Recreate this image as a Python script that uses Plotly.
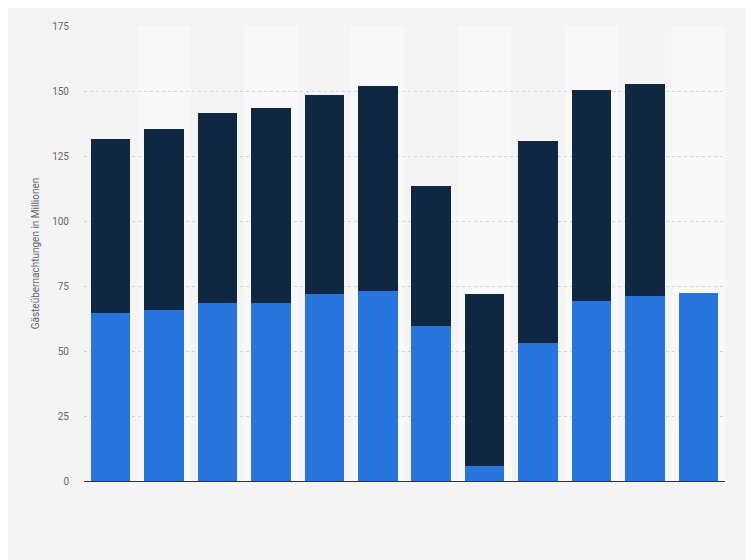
import plotly.graph_objects as go

categories = ["2010", "2011", "2012", "2013", "2014", "2015", "2016", "2017", "2018", "2019", "2020", "2021"]
totals = [131.7, 135.2, 141.5, 143.6, 148.6, 151.9, 113.5, 72, 130.6, 150.2, 152.69, 72.38]
total_labels = ["131,7", "135,2", "141,5", "143,6", "148,6", "151,9", "113,5", "72", "130,6", "150,2", "152,69", "72,38"]
part_a = [64.7, 65.8, 68.6, 68.6, 71.9, 73.0, 59.7, 5.7, 52.9, 69.2, 71.1, 72.38]
part_b = [t - a for t, a in zip(totals, part_a)]

fig = go.Figure()
fig.add_trace(go.Bar(x=categories, y=part_a, marker=dict(color="#2876dd", line=dict(width=0)), width=0.74))
fig.add_trace(go.Bar(x=categories, y=part_b, marker=dict(color="#0f2740", line=dict(width=0)), width=0.74))

# total labels above each stack
for cat, tot, lab in zip(categories, totals, total_labels):
    fig.add_annotation(x=cat, y=tot, text=lab, showarrow=False, yanchor="bottom", yshift=4,
                       font=dict(size=11, color="#333333"))

# alternating column stripes
for i in range(len(categories)):
    if i % 2 == 1:
        fig.add_shape(type="rect", xref="x", yref="paper", x0=i - 0.5, x1=i + 0.5, y0=0, y1=1,
                      fillcolor="#f8f8f8", line=dict(width=0), layer="below")

fig.update_layout(
    barmode="stack",
    width=754, height=560,
    paper_bgcolor="#f4f4f4", plot_bgcolor="#f4f4f4",
    showlegend=False,
    bargap=0.26,
    margin=dict(l=76, r=37, t=13, b=87),
    font=dict(family="Roboto, Arial, sans-serif", color="#666666", size=10),
    xaxis=dict(showticklabels=False, showgrid=False, showline=True, linecolor="#333333",
               linewidth=1, range=[-0.5, 11.5]),
    yaxis=dict(range=[0, 175], dtick=25, showgrid=True, gridcolor="#d4d4d4", griddash="dot",
               zeroline=False, ticks="", ticklabelstandoff=14,
               title=dict(text="Gästeübernachtungen in Millionen", font=dict(size=10, color="#666666"), standoff=10)),
)

fig.write_html("out.html")
